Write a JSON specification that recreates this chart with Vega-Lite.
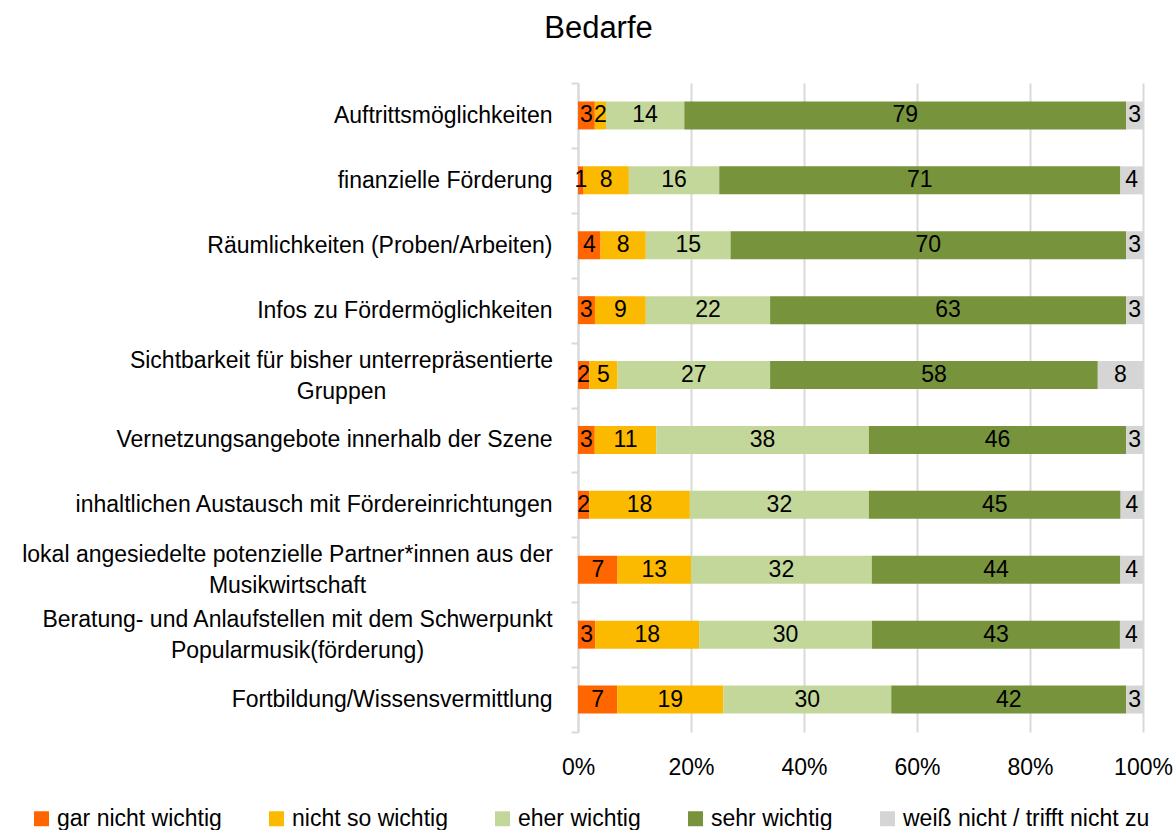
{
  "$schema": "https://vega.github.io/schema/vega-lite/v6.json",
  "width": 565,
  "height": 649,
  "autosize": {"type": "none"},
  "padding": {"left": 578, "top": 83, "right": 32, "bottom": 98},
  "background": "white",
  "config": {
    "view": {"stroke": null},
    "font": "Liberation Sans",
    "text": {"font": "Liberation Sans"}
  },
  "title": {
    "text": "Bedarfe",
    "fontSize": 31,
    "fontWeight": "normal",
    "font": "Liberation Sans",
    "color": "#000000",
    "anchor": "middle",
    "frame": "group",
    "dx": -262,
    "offset": 27
  },
  "data": {
    "values": [
      {"item": "Auftrittsmöglichkeiten", "level": "gar nicht wichtig", "rank": 1, "value": 3},
      {"item": "Auftrittsmöglichkeiten", "level": "nicht so wichtig", "rank": 2, "value": 2},
      {"item": "Auftrittsmöglichkeiten", "level": "eher wichtig", "rank": 3, "value": 14},
      {"item": "Auftrittsmöglichkeiten", "level": "sehr wichtig", "rank": 4, "value": 79},
      {"item": "Auftrittsmöglichkeiten", "level": "weiß nicht / trifft nicht zu", "rank": 5, "value": 3},
      {"item": "finanzielle Förderung", "level": "gar nicht wichtig", "rank": 1, "value": 1},
      {"item": "finanzielle Förderung", "level": "nicht so wichtig", "rank": 2, "value": 8},
      {"item": "finanzielle Förderung", "level": "eher wichtig", "rank": 3, "value": 16},
      {"item": "finanzielle Förderung", "level": "sehr wichtig", "rank": 4, "value": 71},
      {"item": "finanzielle Förderung", "level": "weiß nicht / trifft nicht zu", "rank": 5, "value": 4},
      {"item": "Räumlichkeiten (Proben/Arbeiten)", "level": "gar nicht wichtig", "rank": 1, "value": 4},
      {"item": "Räumlichkeiten (Proben/Arbeiten)", "level": "nicht so wichtig", "rank": 2, "value": 8},
      {"item": "Räumlichkeiten (Proben/Arbeiten)", "level": "eher wichtig", "rank": 3, "value": 15},
      {"item": "Räumlichkeiten (Proben/Arbeiten)", "level": "sehr wichtig", "rank": 4, "value": 70},
      {"item": "Räumlichkeiten (Proben/Arbeiten)", "level": "weiß nicht / trifft nicht zu", "rank": 5, "value": 3},
      {"item": "Infos zu Fördermöglichkeiten", "level": "gar nicht wichtig", "rank": 1, "value": 3},
      {"item": "Infos zu Fördermöglichkeiten", "level": "nicht so wichtig", "rank": 2, "value": 9},
      {"item": "Infos zu Fördermöglichkeiten", "level": "eher wichtig", "rank": 3, "value": 22},
      {"item": "Infos zu Fördermöglichkeiten", "level": "sehr wichtig", "rank": 4, "value": 63},
      {"item": "Infos zu Fördermöglichkeiten", "level": "weiß nicht / trifft nicht zu", "rank": 5, "value": 3},
      {"item": "Sichtbarkeit für bisher unterrepräsentierte Gruppen", "level": "gar nicht wichtig", "rank": 1, "value": 2},
      {"item": "Sichtbarkeit für bisher unterrepräsentierte Gruppen", "level": "nicht so wichtig", "rank": 2, "value": 5},
      {"item": "Sichtbarkeit für bisher unterrepräsentierte Gruppen", "level": "eher wichtig", "rank": 3, "value": 27},
      {"item": "Sichtbarkeit für bisher unterrepräsentierte Gruppen", "level": "sehr wichtig", "rank": 4, "value": 58},
      {"item": "Sichtbarkeit für bisher unterrepräsentierte Gruppen", "level": "weiß nicht / trifft nicht zu", "rank": 5, "value": 8},
      {"item": "Vernetzungsangebote innerhalb der Szene", "level": "gar nicht wichtig", "rank": 1, "value": 3},
      {"item": "Vernetzungsangebote innerhalb der Szene", "level": "nicht so wichtig", "rank": 2, "value": 11},
      {"item": "Vernetzungsangebote innerhalb der Szene", "level": "eher wichtig", "rank": 3, "value": 38},
      {"item": "Vernetzungsangebote innerhalb der Szene", "level": "sehr wichtig", "rank": 4, "value": 46},
      {"item": "Vernetzungsangebote innerhalb der Szene", "level": "weiß nicht / trifft nicht zu", "rank": 5, "value": 3},
      {"item": "inhaltlichen Austausch mit Fördereinrichtungen", "level": "gar nicht wichtig", "rank": 1, "value": 2},
      {"item": "inhaltlichen Austausch mit Fördereinrichtungen", "level": "nicht so wichtig", "rank": 2, "value": 18},
      {"item": "inhaltlichen Austausch mit Fördereinrichtungen", "level": "eher wichtig", "rank": 3, "value": 32},
      {"item": "inhaltlichen Austausch mit Fördereinrichtungen", "level": "sehr wichtig", "rank": 4, "value": 45},
      {"item": "inhaltlichen Austausch mit Fördereinrichtungen", "level": "weiß nicht / trifft nicht zu", "rank": 5, "value": 4},
      {"item": "lokal angesiedelte potenzielle Partner*innen aus der Musikwirtschaft", "level": "gar nicht wichtig", "rank": 1, "value": 7},
      {"item": "lokal angesiedelte potenzielle Partner*innen aus der Musikwirtschaft", "level": "nicht so wichtig", "rank": 2, "value": 13},
      {"item": "lokal angesiedelte potenzielle Partner*innen aus der Musikwirtschaft", "level": "eher wichtig", "rank": 3, "value": 32},
      {"item": "lokal angesiedelte potenzielle Partner*innen aus der Musikwirtschaft", "level": "sehr wichtig", "rank": 4, "value": 44},
      {"item": "lokal angesiedelte potenzielle Partner*innen aus der Musikwirtschaft", "level": "weiß nicht / trifft nicht zu", "rank": 5, "value": 4},
      {"item": "Beratung- und Anlaufstellen mit dem Schwerpunkt Popularmusik(förderung)", "level": "gar nicht wichtig", "rank": 1, "value": 3},
      {"item": "Beratung- und Anlaufstellen mit dem Schwerpunkt Popularmusik(förderung)", "level": "nicht so wichtig", "rank": 2, "value": 18},
      {"item": "Beratung- und Anlaufstellen mit dem Schwerpunkt Popularmusik(förderung)", "level": "eher wichtig", "rank": 3, "value": 30},
      {"item": "Beratung- und Anlaufstellen mit dem Schwerpunkt Popularmusik(förderung)", "level": "sehr wichtig", "rank": 4, "value": 43},
      {"item": "Beratung- und Anlaufstellen mit dem Schwerpunkt Popularmusik(förderung)", "level": "weiß nicht / trifft nicht zu", "rank": 5, "value": 4},
      {"item": "Fortbildung/Wissensvermittlung", "level": "gar nicht wichtig", "rank": 1, "value": 7},
      {"item": "Fortbildung/Wissensvermittlung", "level": "nicht so wichtig", "rank": 2, "value": 19},
      {"item": "Fortbildung/Wissensvermittlung", "level": "eher wichtig", "rank": 3, "value": 30},
      {"item": "Fortbildung/Wissensvermittlung", "level": "sehr wichtig", "rank": 4, "value": 42},
      {"item": "Fortbildung/Wissensvermittlung", "level": "weiß nicht / trifft nicht zu", "rank": 5, "value": 3}
    ]
  },
  "encoding": {
    "y": {
      "field": "item",
      "type": "nominal",
      "sort": null,
      "title": null,
      "scale": {"paddingInner": 0, "paddingOuter": 0},
      "axis": {
        "domain": true,
        "domainColor": "#d9d9d9",
        "domainWidth": 2,
        "ticks": true,
        "tickBand": "extent",
        "tickSize": 7,
        "tickColor": "#d9d9d9",
        "tickWidth": 2,
        "grid": false,
        "labelFont": "Liberation Sans",
        "labelFontSize": 23,
        "labelColor": "#000000",
        "labelLimit": 700,
        "labelLineHeight": 31,
        "labelAlign": {
          "condition": {"test": "indexof(['Sichtbarkeit für bisher unterrepräsentierte Gruppen', 'lokal angesiedelte potenzielle Partner*innen aus der Musikwirtschaft', 'Beratung- und Anlaufstellen mit dem Schwerpunkt Popularmusik(förderung)'], datum.value) >= 0", "value": "center"},
          "value": "right"
        },
        "labelPadding": {
          "condition": [
            {"test": "datum.value == 'Sichtbarkeit für bisher unterrepräsentierte Gruppen'", "value": 230},
            {"test": "datum.value == 'lokal angesiedelte potenzielle Partner*innen aus der Musikwirtschaft'", "value": 284},
            {"test": "datum.value == 'Beratung- und Anlaufstellen mit dem Schwerpunkt Popularmusik(förderung)'", "value": 274}
          ],
          "value": 19
        },
        "labelOffset": {
          "condition": {"test": "indexof(['Sichtbarkeit für bisher unterrepräsentierte Gruppen', 'lokal angesiedelte potenzielle Partner*innen aus der Musikwirtschaft', 'Beratung- und Anlaufstellen mit dem Schwerpunkt Popularmusik(förderung)'], datum.value) >= 0", "value": -15},
          "value": 0
        },
        "labelExpr": "datum.value == 'Sichtbarkeit für bisher unterrepräsentierte Gruppen' ? ['Sichtbarkeit für bisher unterrepräsentierte', 'Gruppen'] : datum.value == 'lokal angesiedelte potenzielle Partner*innen aus der Musikwirtschaft' ? ['lokal angesiedelte potenzielle Partner*innen aus der', 'Musikwirtschaft'] : datum.value == 'Beratung- und Anlaufstellen mit dem Schwerpunkt Popularmusik(förderung)' ? ['Beratung- und Anlaufstellen mit dem Schwerpunkt', 'Popularmusik(förderung)'] : datum.label"
      }
    },
    "order": {"field": "rank", "type": "quantitative"}
  },
  "layer": [
    {
      "mark": {"type": "bar", "height": 28},
      "encoding": {
        "x": {
          "field": "value",
          "type": "quantitative",
          "stack": "normalize",
          "title": null,
          "scale": {"domain": [0, 1]},
          "axis": {
            "values": [0, 0.2, 0.4, 0.6, 0.8, 1],
            "format": "%",
            "grid": true,
            "gridColor": "#d9d9d9",
            "gridWidth": 2,
            "domain": false,
            "ticks": false,
            "tickSize": 0,
            "labelFlush": false,
            "labelPadding": 24,
            "labelFont": "Liberation Sans",
            "labelFontSize": 23,
            "labelColor": "#000000"
          }
        },
        "color": {
          "field": "level",
          "type": "nominal",
          "sort": ["gar nicht wichtig", "nicht so wichtig", "eher wichtig", "sehr wichtig", "weiß nicht / trifft nicht zu"],
          "scale": {
            "domain": ["gar nicht wichtig", "nicht so wichtig", "eher wichtig", "sehr wichtig", "weiß nicht / trifft nicht zu"],
            "range": ["#ff6600", "#fbb900", "#c4d79b", "#77933c", "#d5d5d5"]
          },
          "legend": {
            "orient": "none",
            "legendX": -548,
            "legendY": 724,
            "direction": "horizontal",
            "title": null,
            "symbolType": "square",
            "symbolSize": 225,
            "symbolStrokeWidth": 0,
            "labelFont": "Liberation Sans",
            "labelFontSize": 23,
            "labelColor": "#000000",
            "labelOffset": 4,
            "labelLimit": 400,
            "columnPadding": 43
          }
        }
      }
    },
    {
      "mark": {"type": "text", "fontSize": 23, "color": "#000000", "baseline": "middle", "align": "center", "font": "Liberation Sans"},
      "encoding": {
        "x": {"field": "value", "type": "quantitative", "stack": "normalize", "bandPosition": 0.5},
        "detail": {"field": "level"},
        "text": {"field": "value", "type": "quantitative"}
      }
    }
  ]
}
